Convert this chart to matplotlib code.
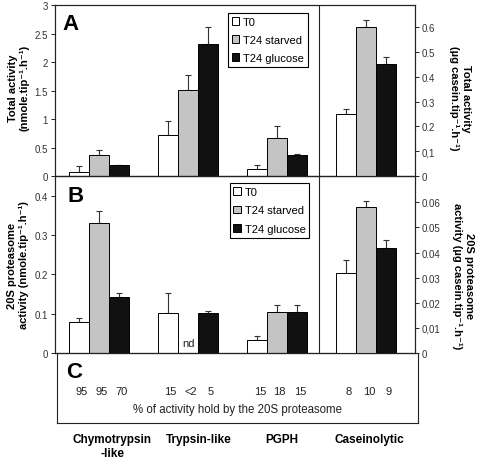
"""
Proteasome activity per tip: total activity (A), 20S proteasome activity (B)
and share of activity held by the 20S proteasome (C).
"""

import numpy as np
import matplotlib.pyplot as plt
import matplotlib.transforms as mtransforms

plt.rcParams['font.family'] = ['Liberation Sans', 'DejaVu Sans']

groups = ['Chymotrypsin\n-like', 'Trypsin-like', 'PGPH', 'Caseinolytic']
series = ['T0', 'T24 starved', 'T24 glucose']

# Panel A: total activity (last group is on the right axis, µg casein)
total_t0 = [0.07, 0.72, 0.12, 0.25]
total_t0_err = [0.10, 0.24, 0.07, 0.02]
total_starved = [0.36, 1.51, 0.66, 0.60]
total_starved_err = [0.09, 0.26, 0.21, 0.03]
total_glucose = [0.19, 2.32, 0.36, 0.45]
total_glucose_err = [0.01, 0.30, 0.02, 0.03]

# Panel B: 20S proteasome activity (nd = not determined)
p20_t0 = [0.080, 0.103, 0.033, 0.032]
p20_t0_err = [0.010, 0.050, 0.009, 0.005]
p20_starved = [0.330, np.nan, 0.104, 0.058]
p20_starved_err = [0.030, np.nan, 0.018, 0.0025]
p20_glucose = [0.142, 0.103, 0.104, 0.042]
p20_glucose_err = [0.010, 0.004, 0.018, 0.003]

# Panel C: % of activity held by the 20S proteasome
pct_t0 = ['95', '15', '15', '8']
pct_starved = ['95', '<2', '18', '10']
pct_glucose = ['70', '5', '15', '9']

colors = ['white', '#c4c4c4', '#111111']
width = 0.225
offsets = [-width, 0, width]
x = np.arange(len(groups))
xlim = (-0.5, 3.55)
divider = 2.47

fig = plt.figure(figsize=(4.8, 4.6), dpi=100)
ax_a = fig.add_axes([0.1146, 0.6152, 0.75, 0.3717])
ax_b = fig.add_axes([0.1146, 0.2304, 0.75, 0.3848])
ax_c = fig.add_axes([0.1188, 0.0783, 0.752, 0.152])
ax_a2 = ax_a.twinx()
ax_b2 = ax_b.twinx()


def draw_bars(ax_left, ax_right, values, errors):
    for k in range(3):
        vals = np.array(values[k], dtype=float)
        errs = np.array(errors[k], dtype=float)
        for ax, idx in ((ax_left, [0, 1, 2]), (ax_right, [3])):
            xs = x[idx] + offsets[k]
            ax.bar(xs, vals[idx], width, color=colors[k], edgecolor='black',
                   linewidth=0.7, label=series[k], zorder=2)
            ax.errorbar(xs, vals[idx], yerr=[np.zeros(len(idx)), errs[idx]],
                        fmt='none', ecolor='#333333', elinewidth=0.8,
                        capsize=2.5, capthick=0.8, zorder=1)


draw_bars(ax_a, ax_a2,
          [total_t0, total_starved, total_glucose],
          [total_t0_err, total_starved_err, total_glucose_err])
draw_bars(ax_b, ax_b2,
          [p20_t0, p20_starved, p20_glucose],
          [p20_t0_err, p20_starved_err, p20_glucose_err])

# axes ranges and ticks
ax_a.set_ylim(0, 3)
ax_a.set_yticks([0, 0.5, 1, 1.5, 2, 2.5, 3])
ax_a.set_yticklabels(['0', '0.5', '1', '1.5', '2', '2.5', '3'])
ax_a2.set_ylim(0, 0.69)
ax_a2.set_yticks([0, 0.1, 0.2, 0.3, 0.4, 0.5, 0.6])
ax_a2.set_yticklabels(['0', '0,1', '0.2', '0.3', '0.4', '0.5', '0.6'])
ax_b.set_ylim(0, 0.45)
ax_b.set_yticks([0, 0.1, 0.2, 0.3, 0.4])
ax_b.set_yticklabels(['0', '0.1', '0.2', '0.3', '0.4'])
ax_b2.set_ylim(0, 0.0705)
ax_b2.set_yticks([0, 0.01, 0.02, 0.03, 0.04, 0.05, 0.06])
ax_b2.set_yticklabels(['0', '0,01', '0.02', '0.03', '0.04', '0.05', '0.06'])

for ax in (ax_a, ax_b, ax_a2, ax_b2, ax_c):
    ax.set_xlim(*xlim)
    ax.set_xticks([])
    for s in ax.spines.values():
        s.set_linewidth(0.8)
        s.set_color('#222222')
    ax.tick_params(axis='y', labelsize=7, colors='#222222', labelcolor='#333333',
                   length=3, width=0.7, pad=2)
    ax.set_facecolor('none')

for ax in (ax_a, ax_b):
    ax.axvline(divider, color='#222222', linewidth=0.8, zorder=3)

# axis labels
ax_a.set_ylabel('Total activity\n(nmole.tip⁻¹.h⁻¹)', fontsize=8, fontweight='bold',
                rotation=90, ha='center', va='center')
ax_a.yaxis.set_label_coords(-0.1, 0.52)
ax_b.set_ylabel('20S proteasome\nactivity (nmole.tip⁻¹.h⁻¹)', fontsize=8,
                fontweight='bold', rotation=90, ha='center', va='center')
ax_b.yaxis.set_label_coords(-0.103, 0.5)
ax_a2.set_ylabel('Total activity\n(µg casein.tip⁻¹.h⁻¹)', fontsize=8,
                 fontweight='bold', rotation=270, ha='center', va='center')
ax_a2.yaxis.set_label_coords(1.125, 0.46)
ax_b2.set_ylabel('20S proteasome\nactivity (µg casein.tip⁻¹.h⁻¹)', fontsize=8,
                 fontweight='bold', rotation=270, ha='center', va='center')
ax_b2.yaxis.set_label_coords(1.133, 0.44)

# panel letters
ax_a.text(0.022, 0.89, 'A', transform=ax_a.transAxes, fontsize=16,
          fontweight='bold', va='center')
ax_b.text(0.036, 0.89, 'B', transform=ax_b.transAxes, fontsize=16,
          fontweight='bold', va='center')
ax_c.text(0.025, 0.73, 'C', transform=ax_c.transAxes, fontsize=16,
          fontweight='bold', va='center')

# legends
for ax, anchor in ((ax_a, (0.48, 0.955)), (ax_b, (0.485, 0.96))):
    leg = ax.legend(loc='upper left', bbox_to_anchor=anchor, fontsize=8,
                    frameon=True, fancybox=False, framealpha=1, edgecolor='black',
                    handlelength=0.7, handleheight=0.7, handletextpad=0.3,
                    borderpad=0.35, labelspacing=0.75, borderaxespad=0)
    leg.get_frame().set_linewidth(0.8)
    leg.set_zorder(5)

ax_b.text(x[1], 0.012, 'nd', ha='center', va='bottom', fontsize=8, color='#222222')

# panel C
ax_c.set_ylim(0, 1)
ax_c.set_yticks([])
for k, pcts in enumerate((pct_t0, pct_starved, pct_glucose)):
    for i, txt in enumerate(pcts):
        ax_c.text(x[i] + offsets[k], 0.46, txt, ha='center', va='center',
                  fontsize=8, color='#222222')
ax_c.text(0.5, 0.2, '% of activity hold by the 20S proteasome', transform=ax_c.transAxes,
          ha='center', va='center', fontsize=8.3, color='#222222')

label_x = [0.12, 1.09, 2.02, 3.01]
trans = mtransforms.blended_transform_factory(ax_c.transData, ax_c.transAxes)
for lx, name in zip(label_x, groups):
    ax_c.text(lx, -0.14, name, transform=trans, ha='center', va='top',
              fontsize=8.5, fontweight='bold', linespacing=1.3)

plt.savefig('out.png', dpi=100)
